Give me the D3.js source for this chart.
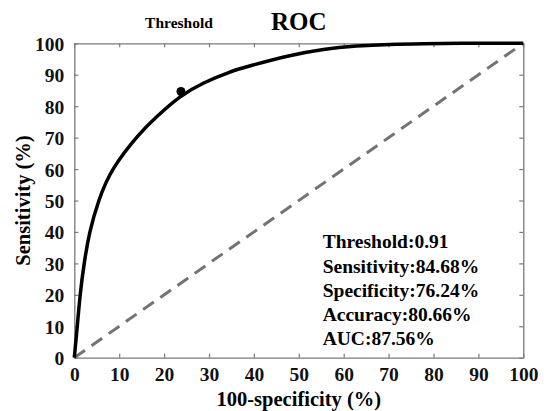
<!DOCTYPE html>
<html>
<head>
<meta charset="utf-8">
<script src="https://cdn.jsdelivr.net/npm/d3@7"></script>
<style>
  body { margin: 0; background: #fff; }
  svg { display: block; font-family: "Liberation Serif", "Times New Roman", serif; font-weight: bold; }
</style>
</head>
<body>
<svg width="544" height="411"></svg>
<script>
// ROC curve (100-specificity %, sensitivity %)
const fpr = [0, 0.67, 1.27, 2.16, 3.35, 5.35, 8.17, 14.65, 18.35, 23.5, 28.7, 34.7, 38.75, 48, 55.5, 62.9, 70.3, 77.7, 85, 100];
const tpr = [0, 10, 20, 30, 40, 50, 60, 71.7, 76.7, 83.3, 87.5, 91.0, 92.7, 96.2, 98.2, 99.2, 99.7, 99.9, 100, 100];

// chosen threshold point
const pointX = [23.76];
const pointY = [84.68];

const ticks = [0, 10, 20, 30, 40, 50, 60, 70, 80, 90, 100];
const infoLines = ['Threshold:0.91', 'Sensitivity:84.68%', 'Specificity:76.24%', 'Accuracy:80.66%', 'AUC:87.56%'];

const plotLeft = 74.3, plotRight = 523.3, plotTop = 43.3, plotBottom = 357.7;

const svg = d3.select('svg');

const xScale = d3.scaleLinear().domain([0, 100]).range([plotLeft, plotRight]);
const yScale = d3.scaleLinear().domain([0, 100]).range([plotBottom, plotTop]);

const axisColor = '#7a7a7a';

// axes with inward ticks on all four sides
const styleAxis = g => {
  g.attr('font-family', null).attr('font-size', null);
  g.select('.domain').attr('stroke', axisColor).attr('stroke-width', 1.3);
  g.selectAll('.tick line').attr('stroke', axisColor).attr('stroke-width', 1.2);
  g.selectAll('.tick text').attr('font-size', 19.5).attr('fill', '#111');
};

svg.append('g')
    .attr('transform', `translate(0, ${plotBottom})`)
    .call(d3.axisBottom(xScale).tickValues(ticks).tickSize(-4).tickPadding(9).tickSizeOuter(0))
    .call(styleAxis);

svg.append('g')
    .attr('transform', `translate(${plotLeft}, 0)`)
    .call(d3.axisLeft(yScale).tickValues(ticks).tickSize(-4).tickPadding(10).tickSizeOuter(0))
    .call(styleAxis)
    .call(g => g.selectAll('.tick text').attr('dy', '0.36em'));

svg.append('g')
    .attr('transform', `translate(0, ${plotTop})`)
    .call(d3.axisTop(xScale).tickValues(ticks).tickSize(-4).tickFormat('').tickSizeOuter(0))
    .call(styleAxis);

svg.append('g')
    .attr('transform', `translate(${plotRight}, 0)`)
    .call(d3.axisRight(yScale).tickValues(ticks).tickSize(-4).tickFormat('').tickSizeOuter(0))
    .call(styleAxis);

// chance diagonal
svg.append('line')
    .attr('x1', xScale(0)).attr('y1', yScale(0))
    .attr('x2', xScale(100)).attr('y2', yScale(100))
    .attr('stroke', '#737373')
    .attr('stroke-width', 3)
    .attr('stroke-dasharray', '13,8');

// ROC curve, smoothed through the read points
const line = d3.line()
    .x(d => xScale(d[0]))
    .y(d => yScale(d[1]))
    .curve(d3.curveBasis);

svg.append('path')
    .datum(fpr.map((f, i) => [f, tpr[i]]))
    .attr('d', line)
    .attr('fill', 'none')
    .attr('stroke', '#000')
    .attr('stroke-width', 3.5);

svg.selectAll('circle.pt')
    .data(pointX.map((x, i) => [x, pointY[i]]))
    .enter()
    .append('circle')
    .attr('class', 'pt')
    .attr('cx', d => xScale(d[0]))
    .attr('cy', d => yScale(d[1]))
    .attr('r', 4.5)
    .attr('fill', '#000');

// titles
svg.append('text')
    .attr('x', (plotLeft + plotRight) / 2)
    .attr('y', 30)
    .attr('text-anchor', 'middle')
    .attr('font-size', 25)
    .text('ROC');

svg.append('text')
    .attr('x', 179)
    .attr('y', 28)
    .attr('text-anchor', 'middle')
    .attr('font-size', 15.5)
    .text('Threshold');

svg.append('text')
    .attr('x', (plotLeft + plotRight) / 2)
    .attr('y', 406)
    .attr('text-anchor', 'middle')
    .attr('font-size', 20.5)
    .text('100-specificity (%)');

svg.append('text')
    .attr('transform', `translate(30, ${(plotTop + plotBottom) / 2}) rotate(-90)`)
    .attr('text-anchor', 'middle')
    .attr('font-size', 20.5)
    .text('Sensitivity (%)');

// stats box
svg.selectAll('text.info')
    .data(infoLines)
    .enter()
    .append('text')
    .attr('class', 'info')
    .attr('x', 322.7)
    .attr('y', (_, i) => 248.3 + i * 24.2)
    .attr('font-size', 19.5)
    .text(d => d);
</script>
</body>
</html>
